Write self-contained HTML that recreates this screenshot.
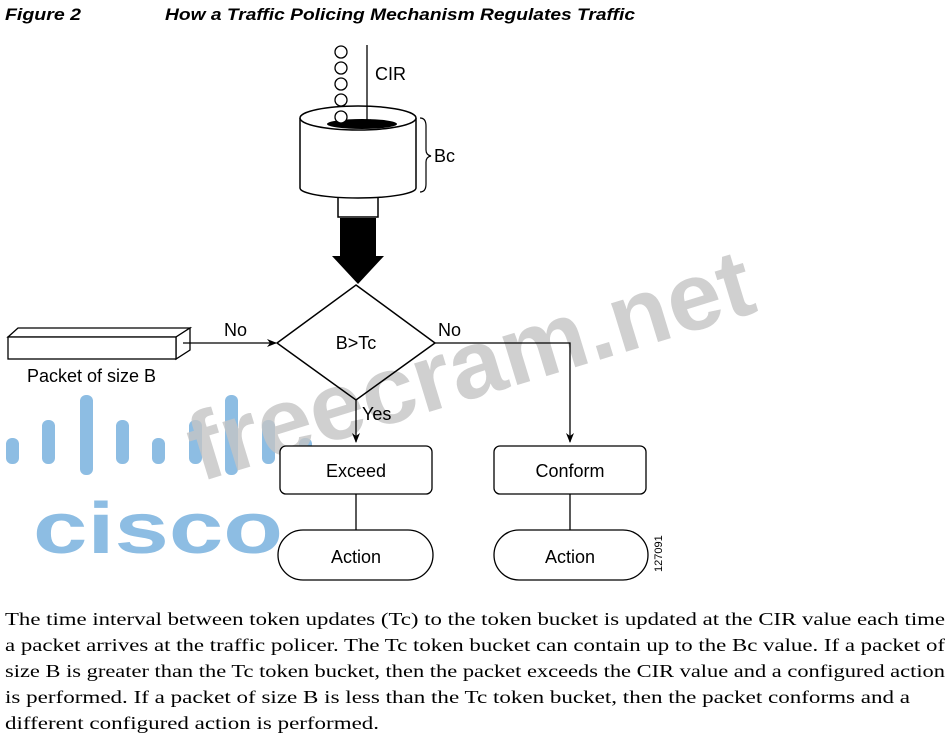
<!DOCTYPE html>
<html><head><meta charset="utf-8"><style>
html,body{margin:0;padding:0;background:#fff;width:950px;height:742px;overflow:hidden}
</style></head><body>
<svg width="950" height="742" viewBox="0 0 950 742" xmlns="http://www.w3.org/2000/svg" font-family="Liberation Sans, sans-serif">
<defs><marker id="a" markerWidth="10" markerHeight="10" refX="9" refY="5" orient="auto" markerUnits="userSpaceOnUse"><path d="M0,1 L10,5 L0,9 L3,5 z" fill="#000"/></marker></defs>
<text x="5" y="20" font-size="17" font-style="italic" font-weight="bold" textLength="76" lengthAdjust="spacingAndGlyphs">Figure 2</text>
<text x="165" y="20" font-size="17" font-style="italic" font-weight="bold" textLength="470" lengthAdjust="spacingAndGlyphs">How a Traffic Policing Mechanism Regulates Traffic</text>
<!-- cisco logo -->
<g fill="#8dbde3">
<rect x="6" y="438" width="13" height="26" rx="6"/>
<rect x="42" y="420" width="13" height="44" rx="6"/>
<rect x="80" y="395" width="13" height="80" rx="6"/>
<rect x="116" y="420" width="13" height="44" rx="6"/>
<rect x="152" y="438" width="13" height="26" rx="6"/>
<rect x="189" y="420" width="13" height="44" rx="6"/>
<rect x="225" y="395" width="13" height="80" rx="6"/>
<rect x="262" y="420" width="13" height="44" rx="6"/>
<rect x="299" y="438" width="13" height="26" rx="6"/>
<text x="33" y="553" font-size="72" font-weight="bold" textLength="250" lengthAdjust="spacingAndGlyphs">cisco</text>
</g>
<!-- watermark -->
<text transform="translate(200,482) rotate(-17)" font-size="96" font-weight="bold" fill="#c4c4c4" fill-opacity="0.8" textLength="585" lengthAdjust="spacingAndGlyphs">freecram.net</text>
<!-- bucket -->
<g stroke="#000" stroke-width="1.5" fill="#fff">
<rect x="338" y="193" width="40" height="24"/>
<path d="M300,118 L300,188 A58,10 0 0 0 416,188 L416,118"/>
<ellipse cx="358" cy="118" rx="58" ry="12"/>
</g>
<ellipse cx="362" cy="124" rx="35" ry="5" fill="#000"/>
<path d="M340,218 h36 v38 h8 l-26,28 l-26,-28 h8 z" fill="#000"/>
<g fill="#fff" stroke="#000" stroke-width="1.3">
<circle cx="341" cy="52" r="6"/><circle cx="341" cy="68" r="6"/><circle cx="341" cy="84" r="6"/><circle cx="341" cy="100" r="6"/><circle cx="341" cy="117" r="6"/>
</g>
<line x1="367" y1="45" x2="367" y2="128" stroke="#000" stroke-width="1.3" marker-end="url(#a)"/>
<text x="375" y="80" font-size="18">CIR</text>
<path d="M420,118 q6,0 6,8 v24 q0,5 5,6 q-5,1 -5,6 v22 q0,8 -6,8" fill="none" stroke="#000" stroke-width="1.2"/>
<text x="434" y="162" font-size="18">Bc</text>
<!-- diamond -->
<path d="M356,285 L435,343 L356,400 L277,343 z" fill="none" stroke="#000" stroke-width="1.5"/>
<text x="356" y="349" font-size="18" text-anchor="middle">B&gt;Tc</text>
<!-- packet -->
<g stroke="#000" stroke-width="1.3" fill="#fff">
<path d="M8,337 L18,328 L190,328 L176,337 z"/>
<path d="M176,337 L190,328 L190,350 L176,359 z"/>
<rect x="8" y="337" width="168" height="22"/>
</g>
<text x="27" y="382" font-size="18">Packet of size B</text>
<line x1="183" y1="343" x2="276" y2="343" stroke="#000" stroke-width="1.3" marker-end="url(#a)"/>
<text x="224" y="336" font-size="18">No</text>
<text x="438" y="336" font-size="18">No</text>
<path d="M435,343 H570 V442" fill="none" stroke="#000" stroke-width="1.3" marker-end="url(#a)"/>
<line x1="356" y1="400" x2="356" y2="442" stroke="#000" stroke-width="1.3" marker-end="url(#a)"/>
<text x="362" y="420" font-size="18">Yes</text>
<!-- boxes -->
<g stroke="#000" stroke-width="1.3" fill="#fff">
<rect x="280" y="446" width="152" height="48" rx="6"/>
<rect x="494" y="446" width="152" height="48" rx="6"/>
<line x1="356" y1="494" x2="356" y2="530"/>
<line x1="570" y1="494" x2="570" y2="530"/>
<rect x="278" y="530" width="155" height="50" rx="25"/>
<rect x="494" y="530" width="154" height="50" rx="25"/>
</g>
<g font-size="18" text-anchor="middle">
<text x="356" y="477">Exceed</text>
<text x="570" y="477">Conform</text>
<text x="356" y="563">Action</text>
<text x="570" y="563">Action</text>
</g>
<text transform="translate(662,572) rotate(-90)" font-size="11">127091</text>
<!-- caption -->
<g font-family="Liberation Serif, serif" font-size="18" lengthAdjust="spacingAndGlyphs">
<text x="5" y="625" textLength="940" lengthAdjust="spacingAndGlyphs">The time interval between token updates (Tc) to the token bucket is updated at the CIR value each time</text>
<text x="5" y="651" textLength="940" lengthAdjust="spacingAndGlyphs">a packet arrives at the traffic policer. The Tc token bucket can contain up to the Bc value. If a packet of</text>
<text x="5" y="677" textLength="940" lengthAdjust="spacingAndGlyphs">size B is greater than the Tc token bucket, then the packet exceeds the CIR value and a configured action</text>
<text x="5" y="703" textLength="905" lengthAdjust="spacingAndGlyphs">is performed. If a packet of size B is less than the Tc token bucket, then the packet conforms and a</text>
<text x="5" y="729" textLength="374" lengthAdjust="spacingAndGlyphs">different configured action is performed.</text>
</g>
</svg>
</body></html>
